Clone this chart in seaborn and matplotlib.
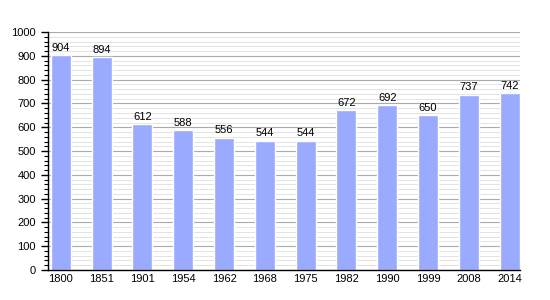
import matplotlib
matplotlib.use("Agg")
import matplotlib.pyplot as plt
import seaborn as sns
import pandas as pd
from matplotlib.ticker import MultipleLocator

years = ["1800", "1851", "1901", "1954", "1962", "1968", "1975", "1982", "1990", "1999", "2008", "2014"]
population = [904, 894, 612, 588, 556, 544, 544, 672, 692, 650, 737, 742]

df = pd.DataFrame({"year": years, "pop": population})

sns.set_style("white")
plt.rcParams['font.family'] = ['Liberation Sans', 'DejaVu Sans']

fig = plt.figure(figsize=(5.5, 3.0), dpi=100)
ax = fig.add_axes([0.087, 0.1, 0.858, 0.793])

ax.yaxis.set_major_locator(MultipleLocator(100))
ax.yaxis.set_minor_locator(MultipleLocator(20))
ax.grid(which="minor", axis="y", color="#e3e3e3", linewidth=0.7)
ax.grid(which="major", axis="y", color="#aaaaaa", linewidth=0.8)
ax.set_axisbelow(True)

sns.barplot(data=df, x="year", y="pop", color="#99aaff", saturation=1, width=0.49, ax=ax)

for i, v in enumerate(population):
    ax.text(i, v + 10, str(v), ha="center", va="bottom", fontsize=8, color="black")

ax.set_ylim(0, 1000)
ax.set_xlim(-0.32, 11.25)
ax.set_xlabel("")
ax.set_ylabel("")
for s in ["top", "right"]:
    ax.spines[s].set_visible(False)
ax.spines["left"].set_color("black")
ax.spines["bottom"].set_color("black")
ax.spines["left"].set_linewidth(1)
ax.spines["bottom"].set_linewidth(1)
ax.tick_params(axis="y", which="major", length=5, width=1, labelsize=8, left=True,
               direction="out", colors="black")
ax.tick_params(axis="y", which="minor", length=3, width=0.8, left=True, colors="black")
ax.tick_params(axis="x", length=0, labelsize=8, pad=3, colors="black")

fig.savefig("out.png", dpi=100)
